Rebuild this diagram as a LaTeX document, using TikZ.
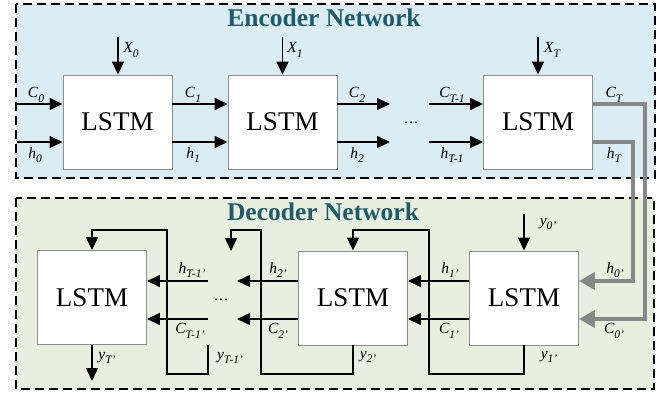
\documentclass[tikz,border=0pt]{standalone}
\usepackage{fontspec}
\setmainfont{Liberation Serif}
\usetikzlibrary{arrows.meta}
\definecolor{encbg}{HTML}{DCECF3}
\definecolor{decbg}{HTML}{E9EFDF}
\definecolor{titlec}{HTML}{1F5B69}
\definecolor{boxline}{HTML}{8C8C8C}
\definecolor{gline}{HTML}{888888}
\newcommand\lb[2]{{\rmfamily\fontsize{15.5}{15}\selectfont\itshape #1\raisebox{-0.28em}{\fontsize{11.5}{10}\selectfont #2}}}
\begin{document}
\begin{tikzpicture}[x=1pt,y=-1pt,
  frame/.style={draw=black,line width=1.6pt,dash pattern=on 9pt off 5pt},
  lstm/.style={draw=boxline,fill=white,line width=0.9pt,minimum width=109pt,minimum height=94pt,inner sep=0pt,font=\rmfamily\fontsize{27}{27}\selectfont},
  arr/.style={line width=1.5pt,-{Triangle[length=13pt,width=12pt]}},
  garr/.style={draw=gline,line width=4pt,-{Triangle[length=16pt,width=17pt]}},
  ttl/.style={font=\rmfamily\fontsize{25.5}{25}\selectfont\bfseries,text=titlec},
  lab/.style={inner sep=0pt},
  dots/.style={font=\rmfamily\fontsize{15}{15}\selectfont}]
\useasboundingbox (0,0) rectangle (670,394);
% frames
\draw[frame,fill=encbg] (16,4) rectangle (655,178);
\draw[frame,fill=decbg] (16,198) rectangle (654,389);
\node[ttl] (t1) at (324,18) {Encoder Network};
\node[ttl] (t2) at (323,212) {Decoder Network};
% encoder boxes
\node[lstm] (e1) at (117.5,122) {LSTM};
\node[lstm] (e2) at (282.5,122) {LSTM};
\node[lstm] (eT) at (538,122) {LSTM};
% decoder boxes
\node[lstm] (d1) at (524,298) {LSTM};
\node[lstm] (d2) at (353,298) {LSTM};
\node[lstm] (dT) at (92,297.5) {LSTM};
% reference coordinates
\coordinate (c0) at (17,104);
\coordinate (h0) at (17,142);
\coordinate (c2e) at (390,104);
\coordinate (h2e) at (390,142);
\coordinate (cTs) at (429,104);
\coordinate (hTs) at (429,142);
\coordinate (x0) at (118,37);
\coordinate (x1) at (282.5,37);
\coordinate (xT) at (538,37);
\coordinate (gC) at (645,319);
\coordinate (gH) at (633,281);
\coordinate (dh) at (0,281);
\coordinate (dc) at (0,319);
\coordinate (h2d) at (237,281);
\coordinate (c2d) at (237,319);
\coordinate (hTd) at (208,281);
\coordinate (cTd) at (208,319);
\coordinate (y0) at (524,214);
\coordinate (yTs) at (208,345);
\coordinate (yTe) at (92,381);
\coordinate (md) at (231,251);
% encoder connectors
\draw[arr] (c0) -- (c0 -| e1.west);
\draw[arr] (h0) -- (h0 -| e1.west);
\draw[arr] (e1.east |- c0) -- (e2.west |- c0);
\draw[arr] (e1.east |- h0) -- (e2.west |- h0);
\draw[arr] (e2.east |- c0) -- (c2e);
\draw[arr] (e2.east |- h0) -- (h2e);
\draw[arr] (cTs) -- (cTs -| eT.west);
\draw[arr] (hTs) -- (hTs -| eT.west);
\draw[arr] (x0) -- (x0 |- e1.north);
\draw[arr] (x1) -- (x1 |- e2.north);
\draw[arr] (xT) -- (xT |- eT.north);
% bridge
\draw[garr] (eT.east |- c0) -| (gC) -- (gC -| d1.east);
\draw[garr] (eT.east |- h0) -| (gH) -- (gH -| d1.east);
% decoder connectors
\draw[arr] (d1.west |- dh) -- (d2.east |- dh);
\draw[arr] (d1.west |- dc) -- (d2.east |- dc);
\draw[arr] (d2.west |- dh) -- (h2d);
\draw[arr] (d2.west |- dc) -- (c2d);
\draw[arr] (hTd) -- (hTd -| dT.east);
\draw[arr] (cTd) -- (cTd -| dT.east);
\draw[arr] (y0) -- (y0 |- d1.north);
\draw[arr] (d1.south) -- (524,374) -- (429,374) -- (429,230) -- (353,230) -- (d2.north);
\draw[arr] (d2.south) -- (353,374) -- (261,374) -- (261,230) -- (231,230) -- (md);
\draw[arr] (yTs) -- (208,374) -- (167,374) -- (167,230) -- (92,230) -- (dT.north);
\draw[arr] (dT.south) -- (yTe);
% encoder labels
\node[lab] (lc0) at (36,95) {\lb{C}{0}};
\node[lab] (lh0) at (35,155) {\lb{h}{0}};
\node[lab] (lc1) at (193,95) {\lb{C}{1}};
\node[lab] (lh1) at (193,155) {\lb{h}{1}};
\node[lab] (lc2) at (357,95) {\lb{C}{2}};
\node[lab] (lh2) at (357,155) {\lb{h}{2}};
\node[lab] (lcT1) at (452,95) {\lb{C}{T-1}};
\node[lab] (lhT1) at (452,155) {\lb{h}{T-1}};
\node[lab] (lcT) at (614,95) {\lb{C}{T}};
\node[lab] (lhT) at (614,155) {\lb{h}{T}};
\node[lab] (lx0) at (131,50) {\lb{X}{0}};
\node[lab] (lx1) at (295,50) {\lb{X}{1}};
\node[lab] (lxT) at (552,50) {\lb{X}{T}};
\node[dots] (ed) at (411,123) {\dots};
% decoder labels
\node[lab] (ly0) at (548,224) {\lb{y}{0'}};
\node[lab] (lh1d) at (450,270) {\lb{h}{1'}};
\node[lab] (lc1d) at (449,331) {\lb{C}{1'}};
\node[lab] (lh0d) at (615,270) {\lb{h}{0'}};
\node[lab] (lc0d) at (614,331) {\lb{C}{0'}};
\node[lab] (ly1) at (549,357) {\lb{y}{1'}};
\node[lab] (ly2) at (368,357) {\lb{y}{2'}};
\node[lab] (lh2d) at (278,270) {\lb{h}{2'}};
\node[lab] (lc2d) at (278,331) {\lb{C}{2'}};
\node[lab] (lhTd) at (192,270) {\lb{h}{T-1'}};
\node[lab] (lcTd) at (190,331) {\lb{C}{T-1'}};
\node[lab] (lyT1) at (230,358) {\lb{y}{T-1'}};
\node[lab] (lyT) at (107,358) {\lb{y}{T'}};
\node[dots] (dd) at (221,300) {\dots};
\end{tikzpicture}
\end{document}
